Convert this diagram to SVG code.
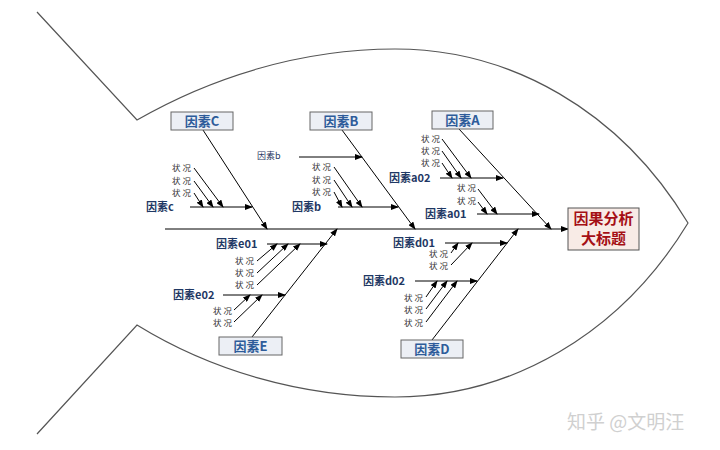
<svg xmlns="http://www.w3.org/2000/svg" width="720" height="450" viewBox="0 0 720 450">
<defs>
<marker id="ar" markerUnits="userSpaceOnUse" markerWidth="8" markerHeight="6" refX="7" refY="3" orient="auto">
<path d="M0,0 L8,3 L0,6 z" fill="#000"/>
</marker>
<style>
.ln{stroke:#000;stroke-width:1;fill:none}
.ol{stroke:#555;stroke-width:1.2;fill:none}
.bx{fill:#eceff5;stroke:#666;stroke-width:1}
.bt{font-family:"Noto Sans CJK SC","Noto Sans",sans-serif;font-size:13px;font-weight:bold;fill:#2e5c9a;text-anchor:middle}
.fl{font-family:"Noto Sans CJK SC","Noto Sans",sans-serif;font-size:11px;font-weight:bold;fill:#1f3864}
.fs{font-family:"Noto Sans CJK SC","Noto Sans",sans-serif;font-size:9px;fill:#1f3864}
.zk{font-family:"Noto Sans CJK SC","Noto Sans",sans-serif;font-size:8.5px;fill:#333}
.tt{font-family:"Noto Sans CJK SC","Noto Sans",sans-serif;font-size:15px;font-weight:bold;fill:#a50f15;text-anchor:middle}
.wm{font-family:"Noto Sans CJK SC","Noto Sans",sans-serif;font-size:19px;fill:#d0d0d0}
</style>
</defs>
<rect width="720" height="450" fill="#fff"/>
<g id="outline">
<path class="ol" d="M37,12 L137,120 C210,78 300,49 395,49 C510,49 620,110 688,223 C620,335 510,397 395,397 C300,397 210,370 137,325 L37,434"/>
</g>
<g id="connectors">
<line class="ln" x1="165" y1="229" x2="568" y2="229" marker-end="url(#ar)"/>
<line class="ln" x1="203" y1="130" x2="267" y2="229" marker-end="url(#ar)"/>
<line class="ln" x1="190" y1="207" x2="252" y2="207" marker-end="url(#ar)"/>
<line class="ln" x1="194" y1="168" x2="223" y2="207" marker-end="url(#ar)"/>
<line class="ln" x1="194" y1="181" x2="213" y2="207" marker-end="url(#ar)"/>
<line class="ln" x1="194" y1="193" x2="203" y2="207" marker-end="url(#ar)"/>
<line class="ln" x1="342" y1="130" x2="415" y2="229" marker-end="url(#ar)"/>
<line class="ln" x1="299" y1="157" x2="362" y2="157" marker-end="url(#ar)"/>
<line class="ln" x1="338" y1="207" x2="398" y2="207" marker-end="url(#ar)"/>
<line class="ln" x1="334" y1="167" x2="362" y2="207" marker-end="url(#ar)"/>
<line class="ln" x1="334" y1="180" x2="352" y2="207" marker-end="url(#ar)"/>
<line class="ln" x1="334" y1="192" x2="342" y2="207" marker-end="url(#ar)"/>
<line class="ln" x1="459" y1="129" x2="551" y2="229" marker-end="url(#ar)"/>
<line class="ln" x1="440" y1="178" x2="503" y2="178" marker-end="url(#ar)"/>
<line class="ln" x1="442" y1="139" x2="471" y2="178" marker-end="url(#ar)"/>
<line class="ln" x1="442" y1="151" x2="461" y2="178" marker-end="url(#ar)"/>
<line class="ln" x1="442" y1="163" x2="452" y2="178" marker-end="url(#ar)"/>
<line class="ln" x1="477" y1="214" x2="539" y2="214" marker-end="url(#ar)"/>
<line class="ln" x1="478" y1="189" x2="497" y2="214" marker-end="url(#ar)"/>
<line class="ln" x1="478" y1="202" x2="487" y2="214" marker-end="url(#ar)"/>
<line class="ln" x1="252" y1="337" x2="337" y2="229" marker-end="url(#ar)"/>
<line class="ln" x1="267" y1="244" x2="327" y2="244" marker-end="url(#ar)"/>
<line class="ln" x1="257" y1="261" x2="277" y2="244" marker-end="url(#ar)"/>
<line class="ln" x1="257" y1="273" x2="288" y2="244" marker-end="url(#ar)"/>
<line class="ln" x1="257" y1="285" x2="300" y2="244" marker-end="url(#ar)"/>
<line class="ln" x1="223" y1="295" x2="285" y2="295" marker-end="url(#ar)"/>
<line class="ln" x1="234" y1="310" x2="250" y2="295" marker-end="url(#ar)"/>
<line class="ln" x1="234" y1="322" x2="262" y2="295" marker-end="url(#ar)"/>
<line class="ln" x1="432" y1="340" x2="518" y2="229" marker-end="url(#ar)"/>
<line class="ln" x1="445" y1="243" x2="507" y2="243" marker-end="url(#ar)"/>
<line class="ln" x1="451" y1="253" x2="458" y2="243" marker-end="url(#ar)"/>
<line class="ln" x1="451" y1="265" x2="472" y2="243" marker-end="url(#ar)"/>
<line class="ln" x1="415" y1="281" x2="477" y2="281" marker-end="url(#ar)"/>
<line class="ln" x1="426" y1="297" x2="437" y2="281" marker-end="url(#ar)"/>
<line class="ln" x1="426" y1="309" x2="447" y2="281" marker-end="url(#ar)"/>
<line class="ln" x1="426" y1="322" x2="457" y2="281" marker-end="url(#ar)"/>
</g>
<g id="title">
<rect x="568" y="208" width="71" height="42" fill="#f8ebe6" stroke="#555"/>
<text class="tt" x="603.5" y="224">因果分析</text>
<text class="tt" x="603.5" y="244">大标题</text>
</g>
<g id="factorC">
<rect class="bx" x="171" y="112" width="62" height="18"/>
<text class="bt" x="202" y="125.5">因素C</text>
<text class="fl" x="146" y="211">因素c</text>
<text class="zk" x="172" y="171">状 况</text>
<text class="zk" x="172" y="184">状 况</text>
<text class="zk" x="172" y="196">状 况</text>
</g>
<g id="factorB">
<rect class="bx" x="310" y="112" width="62" height="18"/>
<text class="bt" x="341" y="125.5">因素B</text>
<text class="fs" x="257" y="159">因素b</text>
<text class="fl" x="292" y="211">因素b</text>
<text class="zk" x="312" y="170">状 况</text>
<text class="zk" x="312" y="183">状 况</text>
<text class="zk" x="312" y="195">状 况</text>
</g>
<g id="factorA">
<rect class="bx" x="432" y="111" width="61" height="18"/>
<text class="bt" x="462.5" y="124.5">因素A</text>
<text class="fl" x="389" y="182">因素a02</text>
<text class="zk" x="421" y="142">状 况</text>
<text class="zk" x="421" y="154">状 况</text>
<text class="zk" x="421" y="166">状 况</text>
<text class="fl" x="425" y="218">因素a01</text>
<text class="zk" x="457" y="191">状 况</text>
<text class="zk" x="457" y="204">状 况</text>
</g>
<g id="factorE">
<rect class="bx" x="219" y="337" width="63" height="18"/>
<text class="bt" x="250.5" y="350.5">因素E</text>
<text class="fl" x="216" y="248">因素e01</text>
<text class="zk" x="235" y="264">状 况</text>
<text class="zk" x="235" y="276">状 况</text>
<text class="zk" x="235" y="288">状 况</text>
<text class="fl" x="173" y="299">因素e02</text>
<text class="zk" x="213" y="314">状 况</text>
<text class="zk" x="213" y="326">状 况</text>
</g>
<g id="factorD">
<rect class="bx" x="401" y="340" width="62" height="18"/>
<text class="bt" x="432" y="353.5">因素D</text>
<text class="fl" x="393" y="247">因素d01</text>
<text class="zk" x="429" y="257">状 况</text>
<text class="zk" x="429" y="269">状 况</text>
<text class="fl" x="363" y="285">因素d02</text>
<text class="zk" x="404" y="301">状 况</text>
<text class="zk" x="404" y="313">状 况</text>
<text class="zk" x="404" y="326">状 况</text>
</g>
<text class="wm" x="567" y="429">知乎 @文明汪</text>
</svg>
